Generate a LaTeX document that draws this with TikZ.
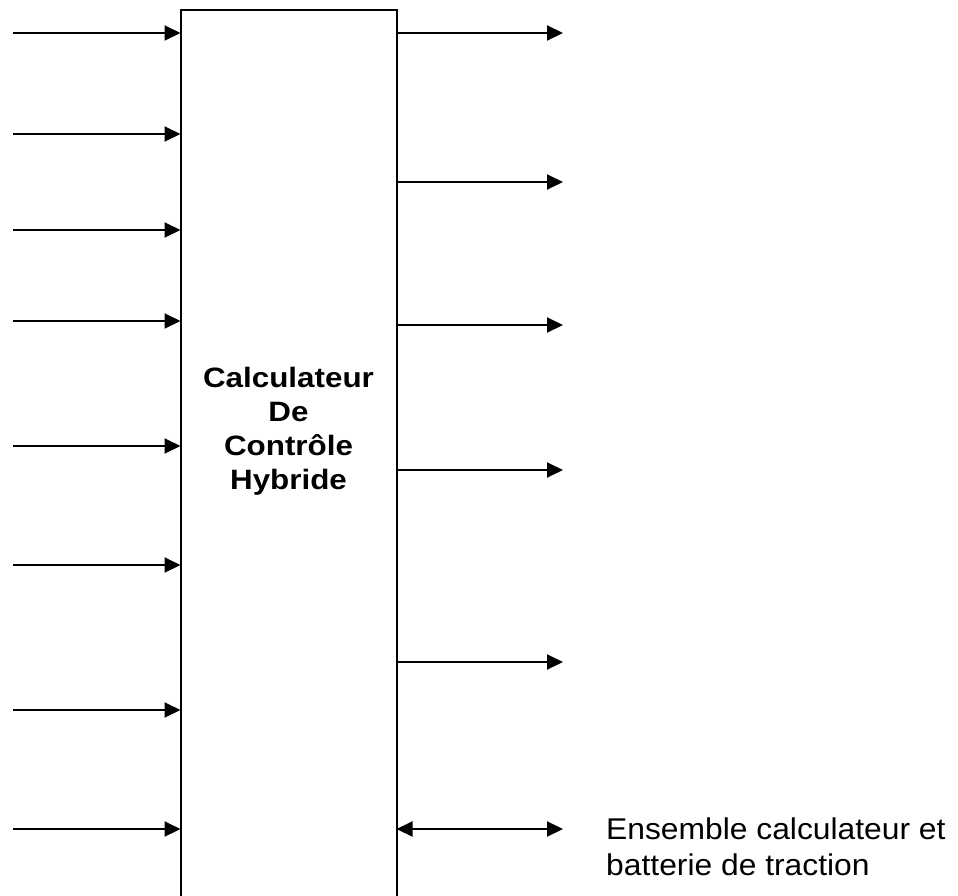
\documentclass[tikz,border=0pt]{standalone}
\usepackage{fontspec}
\setmainfont{Liberation Sans}
\newfontfamily\titlefont[FakeStretch=1.12]{Liberation Sans}
\newfontfamily\labelfont[FakeStretch=1.06]{Liberation Sans}
\usetikzlibrary{arrows.meta}
\begin{document}
\begin{tikzpicture}[x=1pt,y=-1pt,
  arr/.style={line width=2pt,-{Triangle[length=16pt,width=15pt]}},
  darr/.style={line width=2pt,{Triangle[length=16pt,width=15pt]}-{Triangle[length=16pt,width=15pt]}},
  blockbox/.style={draw,line width=2pt,minimum width=216pt,minimum height=900pt,anchor=north west,inner sep=0pt,outer sep=0pt}]
\useasboundingbox (0,0) rectangle (958,895);
\clip (0,0) rectangle (958,895);
\node[blockbox] (box) at (180.5,9.5) {};
\node[align=center,font=\titlefont\bfseries\fontsize{28}{34}\selectfont,anchor=center] (title) at (288.5,431)
  {Calculateur\\De\\Contrôle\\Hybride};
% left inputs
\foreach \i/\y in {1/33,2/134,3/230,4/321,5/446,6/565,7/710,8/829}{
  \coordinate (in\i) at (13,\y);
  \draw[arr] (in\i) -- (in\i -| box.west);
}
% right outputs
\foreach \i/\y in {1/33,2/182,3/325,4/470,5/662}{
  \coordinate (out\i) at (563,\y);
  \draw[arr] (out\i -| box.east) -- (out\i);
}
\coordinate (bat) at (563,829);
\draw[darr] (bat -| box.east) -- (bat);
\node[align=left,anchor=base west,inner sep=0pt,font=\labelfont\fontsize{30}{36}\selectfont] (lab) at (606,875)
  {Ensemble calculateur et\\batterie de traction};
\end{tikzpicture}
\end{document}
